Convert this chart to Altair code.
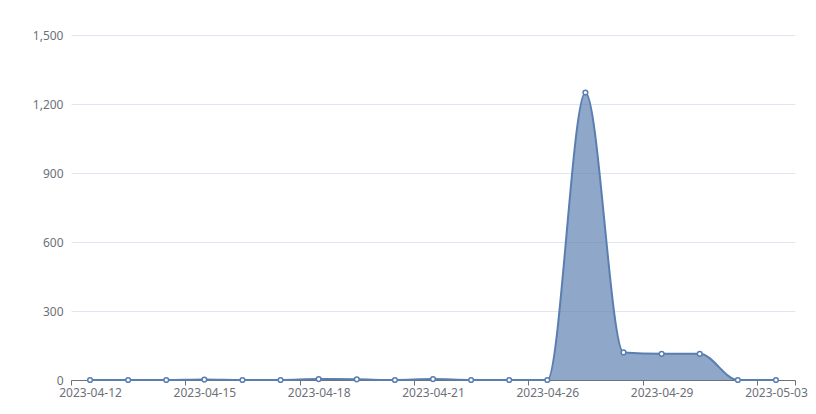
import altair as alt
import pandas as pd

dates = ["2023-04-12", "2023-04-13", "2023-04-14", "2023-04-15", "2023-04-16",
         "2023-04-17", "2023-04-18", "2023-04-19", "2023-04-20", "2023-04-21",
         "2023-04-22", "2023-04-23", "2023-04-26", "2023-04-27", "2023-04-28",
         "2023-04-29", "2023-04-30", "2023-05-01", "2023-05-03"]
values = [0, 0, 0, 2, 0, 0, 4, 3, 0, 4, 0, 0, 0, 1250, 120, 114, 114, 0, 0]
y_ticks = [0, 300, 600, 900, 1200, 1500]

df = pd.DataFrame({"i": list(range(len(dates))), "date": dates, "value": values})

n = len(dates)
label_idx = list(range(0, n, 3))
tick_pos = [k - 0.5 for k in label_idx] + [n - 0.5]
axis_values = sorted(label_idx + tick_pos)
arr = "[" + ",".join("'" + d + "'" for d in dates) + "]"
label_expr = f"datum.value % 1 != 0 ? '' : {arr}[datum.value]"

LINE = "#5a7eb0"
GRAY = "#6e7079"

x = alt.X(
    "i:Q",
    scale=alt.Scale(domain=[-0.5, n - 0.5], nice=False, zero=False),
    axis=alt.Axis(
        values=axis_values,
        labelExpr=label_expr,
        title=None,
        grid=False,
        domainColor=GRAY,
        tickColor=GRAY,
        tickSize=5,
        tickOpacity={"condition": {"test": "datum.value % 1 != 0", "value": 1}, "value": 0},
        labelColor=GRAY,
        labelFontSize=12,
        labelFont="Noto Sans",
        labelPadding=2,
        labelFlush=False,
        labelOverlap=False,
    ),
)
y = alt.Y(
    "value:Q",
    scale=alt.Scale(domain=[0, 1500], nice=False),
    axis=alt.Axis(
        values=y_ticks,
        format=",.0f",
        title=None,
        domain=False,
        ticks=False,
        gridColor="#e0e6f1",
        labelColor=GRAY,
        labelFontSize=12,
        labelFont="Noto Sans",
        labelPadding=8,
    ),
)

base = alt.Chart(df)
area = base.mark_area(
    interpolate="monotone", color=LINE, fillOpacity=0.68,
    line={"color": LINE, "strokeWidth": 2},
).encode(x=x, y=y)
pts = base.mark_point(
    filled=True, fill="white", stroke=LINE, strokeWidth=1.5, size=22, opacity=1
).encode(x=x, y=y)

chart = (area + pts).properties(
    width=724, height=345,
    autosize=alt.AutoSizeParams(type="none"),
    padding={"left": 63, "top": 27, "right": 13, "bottom": 26},
).configure_view(stroke=None)

chart.save("out.html", embed_options={"renderer": "svg", "actions": False})
